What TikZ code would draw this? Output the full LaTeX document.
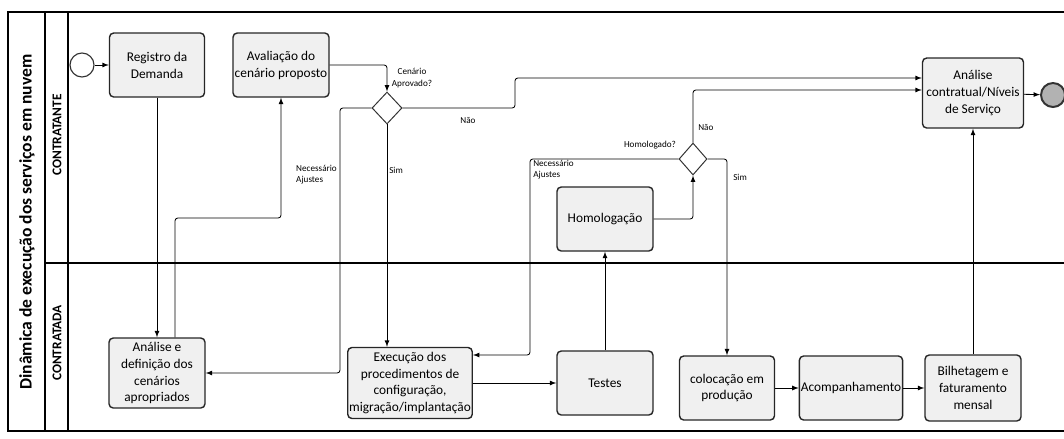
\documentclass[tikz,border=0pt]{standalone}
\usepackage{fontspec}
\setmainfont{Carlito}
\usetikzlibrary{positioning}
\usetikzlibrary{shapes.geometric}

\begin{document}
\begin{tikzpicture}
    [
    x=0.25mm, y=-0.25mm,
    task/.style={draw=black!85, line width=1pt, rounded corners=3pt, fill=black!6,
      align=center, inner sep=1pt, minimum width=24mm, minimum height=16mm,
      font=\fontsize{9.5}{12}\selectfont},
    gate/.style={diamond, draw=black!80, line width=0.7pt, fill=white, inner sep=0pt,
      minimum width=7.5mm, minimum height=8mm},
    event/.style={circle, draw=black!80, inner sep=0pt, minimum size=6mm},
    flow/.style={-latex, line width=0.6pt, rounded corners=2pt},
    note/.style={font=\fontsize{6.5}{8}\selectfont, inner sep=0pt, align=left},
    lane/.style={line width=0.8pt}
    ]
    \useasboundingbox (0,0) rectangle (1064,438);

    % pool e raias
    \draw [lane] (1064,12) -- (8,12) -- (8,431) -- (1064,431);
    \draw [lane] (45,12) -- (45,431);
    \draw [lane] (68,12) -- (68,431);
    \draw [lane] (45,263) -- (1064,263);
    \node (pool) at (27,222) [rotate=90, font=\bfseries\fontsize{12.5}{14}\selectfont]
      {Dinâmica de execução dos serviços em nuvem};
    \node (raia1) at (57,135) [rotate=90, font=\bfseries\fontsize{9.5}{11}\selectfont] {CONTRATANTE};
    \node (raia2) at (57,343) [rotate=90, font=\bfseries\fontsize{9.5}{11}\selectfont] {CONTRATADA};

    % tarefas
    \node (inicio) at (82,65) [event, line width=0.8pt, fill=white] {};
    \node (reg) at (157,65) [task, minimum width=23.75mm] {Registro da\\Demanda};
    \node (aval) at (281,65) [task] {Avaliação do\\cenário proposto};
    \node (dec1) at (387,108) [gate] {};
    \node (analdef) at (157,373) [task, minimum height=17.5mm] {Análise e\\definição dos\\cenários\\apropriados};
    \node (exec) at (410,383) [task, minimum width=31mm, minimum height=17.75mm]
      {Execução dos\\procedimentos de\\configuração,\\migração/implantação};
    \node (testes) at (605,383) [task] {Testes};
    \node (homol) at (605,219) [task] {Homologação};
    \node (dec2) at (693,159) [gate, minimum width=7mm] {};
    \node (coloc) at (727,388) [task, minimum width=23.75mm] {colocação em\\produção};
    \node (acomp) at (851,388) [task, minimum width=25.75mm] {Acompanhamento};
    \node (bilh) at (973,388) [task, minimum height=16.5mm] {Bilhetagem e\\faturamento\\mensal};
    \node (analcont) at (973,93) [task, minimum width=25.25mm, minimum height=17.5mm]
      {Análise\\contratual/Níveis\\de Serviço};
    \node (fim) at (1053,95) [event, line width=1.4pt, fill=black!30] {};

    % pontos de dobra
    \coordinate (k1) at (340,240);
    \coordinate (k2) at (175,218);
    \coordinate (k3) at (515,78);
    \coordinate (k4) at (700,90);
    \coordinate (k5) at (530,355);

    \draw [flow] (inicio) to (reg);
    \draw [flow] (reg) to (analdef);
    \draw [flow] (k2 |- analdef.north) -- (k2) -| (aval.south);
    \draw [flow] (aval.east) -| (dec1.north);
    \draw [flow] (dec1.west) -| (k1) |- (analdef.east);
    \draw [flow] (dec1.east) -| (k3) -- (k3 -| analcont.west);
    \draw [flow] (dec1.south) -- (dec1.south |- exec.north);
    \draw [flow] (exec) to (testes);
    \draw [flow] (testes) to (homol);
    \draw [flow] (homol.east) -| (dec2.south);
    \draw [flow] (dec2.north) |- (k4 -| analcont.west);
    \draw [flow] (dec2.east) -| (coloc.north);
    \draw [flow] (dec2.west) -| (k5) -- (k5 -| exec.east);
    \draw [flow] (coloc) to (acomp);
    \draw [flow] (acomp) to (bilh);
    \draw [flow] (bilh) to (analcont);
    \draw [flow] (analcont) to (fim);

    % rotulos
    \node (t1) at (412,78) [note, align=center] {Cenário\\Aprovado?};
    \node (t2) at (468,120) [note] {Não};
    \node (t3) at (389,170) [note, anchor=west] {Sim};
    \node (t4) at (337,175) [note, anchor=east] {Necessário\\Ajustes};
    \node (t5) at (650,145) [note] {Homologado?};
    \node (t6) at (698,127) [note, anchor=west] {Não};
    \node (t7) at (733,177) [note, anchor=west] {Sim};
    \node (t8) at (533,170) [note, anchor=west] {Necessário\\Ajustes};
  \end{tikzpicture}
\end{document}
